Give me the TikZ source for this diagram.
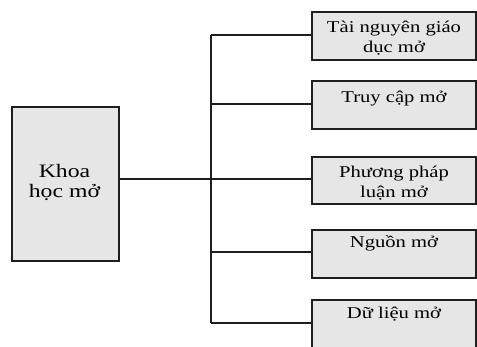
\documentclass[tikz,border=0pt]{standalone}
\usepackage{fontspec}
\setmainfont{Liberation Serif}[FakeStretch=1.25]
\usetikzlibrary{calc}
\definecolor{boxfill}{RGB}{230,230,230}
\definecolor{edge}{RGB}{30,30,30}
\tikzset{
  x=1pt, y=-1pt,
  box/.style={draw=edge, line width=1.6pt, fill=boxfill, anchor=north west, inner sep=0pt},
  rtext/.style={anchor=base, align=center, inner sep=0pt, font=\fontsize{16.5}{19.5}\selectfont},
  ltext/.style={anchor=base, align=center, inner sep=0pt, font=\fontsize{19}{20}\selectfont},
  wire/.style={draw=edge, line width=1.3pt}
}
\begin{document}
\begin{tikzpicture}
\useasboundingbox (0,0) rectangle (477,346);
\clip (0,0) rectangle (477,346);
% left box
\node[box, minimum width=107pt, minimum height=154pt] (main) at (11,106) {};
\node[ltext] (maint) at (64.5,197) {Khoa\\học mở};
% right boxes
\node[box, minimum width=164pt, minimum height=48pt] (b1) at (311,11) {};
\node[box, minimum width=164pt, minimum height=48pt] (b2) at (311,80) {};
\node[box, minimum width=164pt, minimum height=47pt] (b3) at (311,156) {};
\node[box, minimum width=164pt, minimum height=48pt] (b4) at (311,229) {};
\node[box, minimum width=164pt, minimum height=60pt] (b5) at (311,299) {};
\node[rtext] (t1) at (394,52) {Tài nguyên giáo\\dục mở};
\node[rtext] (t2) at (394,102) {Truy cập mở};
\node[rtext] (t3) at (394,197) {Phương pháp\\luận mở};
\node[rtext] (t4) at (394,247) {Nguồn mở};
\node[rtext] (t5) at (394,318) {Dữ liệu mở};
% connectors
\coordinate (trunktop) at (211,35);
\coordinate (trunkbot) at (211,323);
\coordinate (j) at (211,179);
\draw[wire] (main.east |- j) -- (j);
\draw[wire] (trunktop) -- (trunkbot);
\draw[wire] (trunktop) -- (b1.west |- trunktop);
\draw[wire] (211,104) -- (b2.west |- 0,104);
\draw[wire] (j) -- (b3.west |- j);
\draw[wire] (211,252) -- (b4.west |- 0,252);
\draw[wire] (trunkbot) -- (b5.west |- trunkbot);
\end{tikzpicture}
\end{document}
